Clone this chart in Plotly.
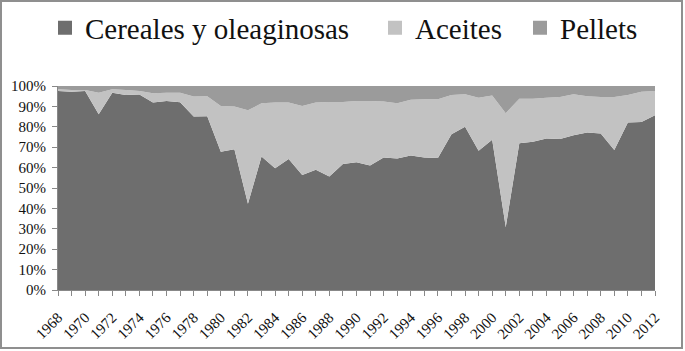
import plotly.graph_objects as go

years = list(range(1968, 2013))

cereales = [97.6, 97.2, 97.6, 86.2, 96.7, 95.6, 95.8, 91.9, 92.7, 92.0,
            85.0, 85.2, 67.8, 69.0, 42.3, 65.4, 59.7, 64.2, 56.4, 59.0,
            55.6, 61.8, 62.6, 61.0, 65.0, 64.5, 65.9, 65.0, 64.7, 76.4,
            80.0, 68.3, 73.7, 30.9, 71.9, 72.7, 74.3, 74.0, 75.9, 77.2,
            76.7, 68.6, 82.1, 82.4, 85.7]

aceites = [0.8, 0.8, 0.4, 10.5, 1.7, 2.4, 1.8, 4.5, 4.0, 4.7,
           9.8, 9.8, 22.4, 21.0, 45.8, 26.1, 32.2, 27.7, 33.8, 32.9,
           36.6, 30.4, 30.1, 31.7, 27.4, 27.0, 27.3, 28.5, 28.8, 19.2,
           15.9, 26.0, 21.6, 55.8, 21.9, 21.1, 20.0, 20.6, 20.0, 17.8,
           17.9, 26.0, 13.5, 14.8, 11.9]

pellets = [1.6, 2.0, 2.0, 3.3, 1.6, 2.0, 2.4, 3.6, 3.3, 3.3,
           5.2, 5.0, 9.8, 10.0, 11.9, 8.5, 8.1, 8.1, 9.8, 8.1,
           7.8, 7.8, 7.3, 7.3, 7.6, 8.5, 6.8, 6.5, 6.5, 4.4,
           4.1, 5.7, 4.7, 13.3, 6.2, 6.2, 5.7, 5.4, 4.1, 5.0,
           5.4, 5.4, 4.4, 2.8, 2.4]

names = ["Cereales y oleaginosas", "Aceites", "Pellets"]
colors = ["#6e6e6e", "#c2c2c2", "#9b9b9b"]
series = [cereales, aceites, pellets]

W, H = 685, 351
L, R, T, B = 58, 30, 86, 61
pw, ph = W - L - R, H - T - B

def px_x(p):
    return (p - L) / pw

def px_y(p):
    return (H - B - p) / ph

FONT = "Liberation Serif"

fig = go.Figure()
for nm, col, vals in zip(names, colors, series):
    fig.add_trace(go.Scatter(
        x=years, y=vals, name=nm, mode="none", stackgroup="one",
        fillcolor=col, showlegend=False, hoverinfo="x+y+name"))

legend_ids = ["legend", "legend2", "legend3"]
for nm, col, lg in zip(names, colors, legend_ids):
    fig.add_trace(go.Scatter(
        x=[None], y=[None], mode="markers", name=nm, legend=lg,
        marker=dict(symbol="square", size=14, color=col)))

legend_text_x = [85, 415, 560]
legend_common = dict(orientation="h", xanchor="left", yanchor="middle",
                     font=dict(family=FONT, size=29, color="#111111"),
                     bgcolor="rgba(0,0,0,0)", borderwidth=0)
lay_leg = {}
for lg, tx in zip(legend_ids, legend_text_x):
    lay_leg[lg] = dict(x=px_x(tx - 40), y=px_y(28), **legend_common)

fig.update_layout(
    width=W, height=H,
    margin=dict(l=L, r=R, t=T, b=B, autoexpand=False),
    paper_bgcolor="white", plot_bgcolor="white",
    font=dict(family=FONT, size=15, color="#111111"),
    xaxis=dict(range=[1968, 2012], tick0=1968, dtick=2, tickangle=-45,
               ticks="outside", ticklen=5, tickcolor="#888888",
               ticklabelstandoff=7, automargin=False,
               minor=dict(dtick=1, ticks="outside", ticklen=5, tickcolor="#888888"),
               showline=True, linecolor="#888888", linewidth=1,
               showgrid=False, zeroline=False,
               tickfont=dict(family=FONT, size=15)),
    yaxis=dict(range=[0, 100], dtick=10, ticksuffix="%",
               ticks="outside", ticklen=5, tickcolor="#888888",
               ticklabelstandoff=3, automargin=False,
               showline=True, linecolor="#888888", linewidth=1,
               showgrid=False, zeroline=False,
               tickfont=dict(family=FONT, size=15)),
    shapes=[dict(type="rect", xref="paper", yref="paper",
                 x0=px_x(1), x1=px_x(682), y0=px_y(348), y1=px_y(1),
                 line=dict(color="#8f8f8f", width=2), layer="below")],
    **lay_leg,
)

fig.write_html("out.html")
